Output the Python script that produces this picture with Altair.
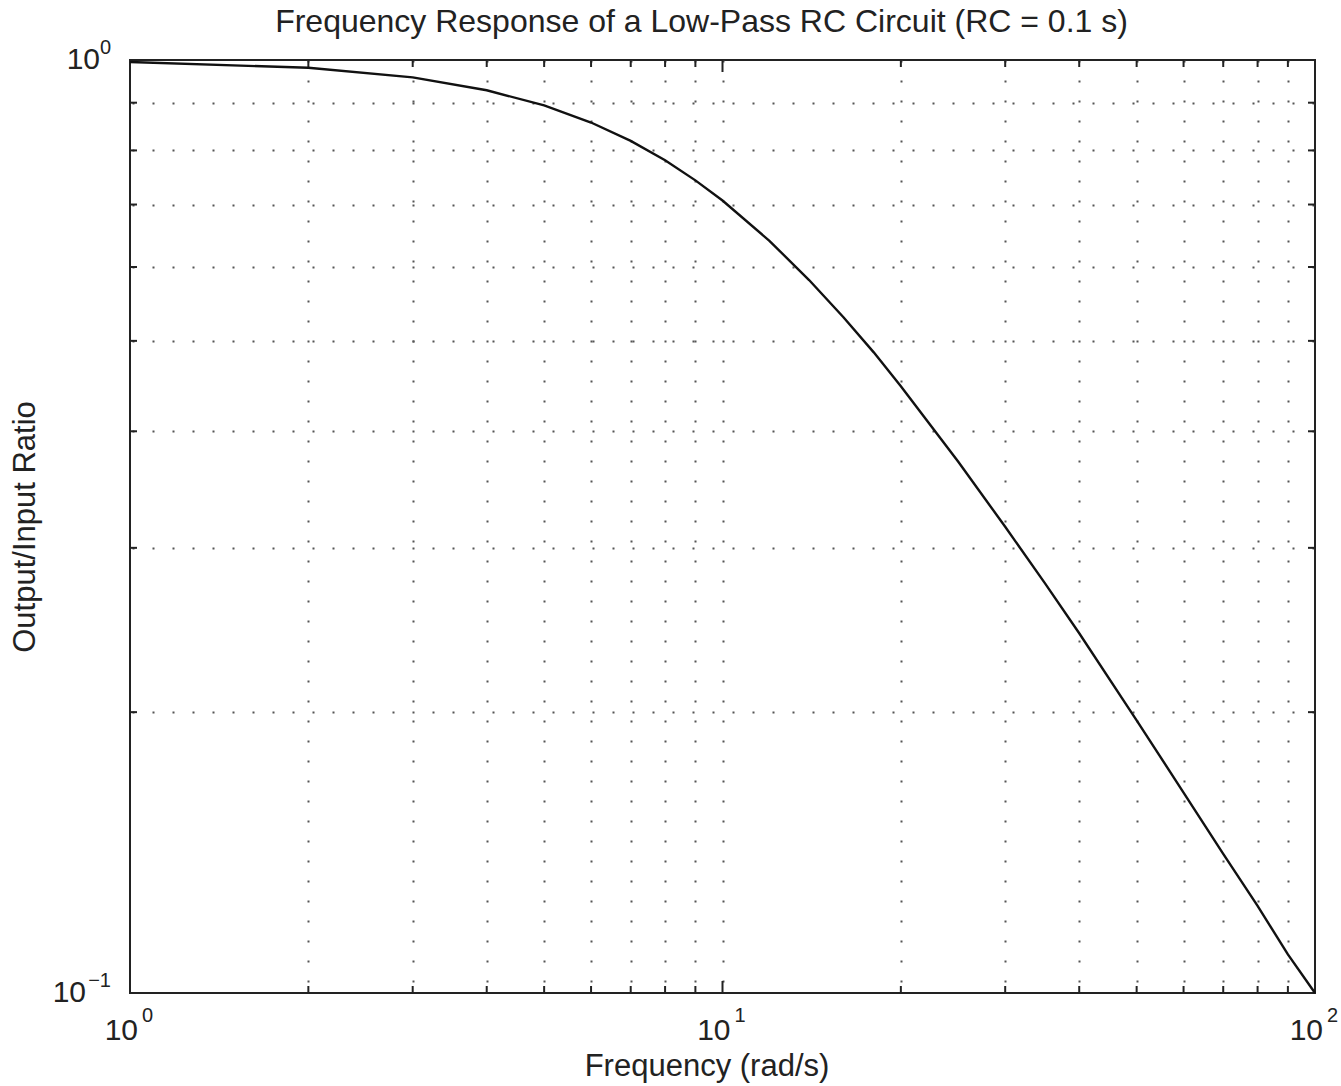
import altair as alt
import pandas as pd

# ---- data ----
freq = [1, 2, 3, 4, 5, 6, 7, 8, 9, 10, 12, 14, 16, 18, 20, 25, 30, 35, 40, 50, 60, 70, 80, 90, 100]
ratio = [0.995, 0.981, 0.958, 0.928, 0.894, 0.857, 0.819, 0.781, 0.743, 0.707, 0.640, 0.581,
         0.530, 0.486, 0.447, 0.371, 0.316, 0.275, 0.243, 0.196, 0.164, 0.141, 0.124, 0.110, 0.100]

x_major = [1, 10, 100]
x_major_exp = ["0", "1", "2"]
x_minor = [2, 3, 4, 5, 6, 7, 8, 9, 20, 30, 40, 50, 60, 70, 80, 90]
y_major = [1.0, 0.1]
y_major_exp = ["0", "\u22121"]
y_minor = [0.2, 0.3, 0.4, 0.5, 0.6, 0.7, 0.8, 0.9]

TITLE = "Frequency Response of a Low-Pass RC Circuit (RC = 0.1 s)"
XTITLE = "Frequency (rad/s)"
YTITLE = "Output/Input Ratio"

W, H = 1185, 933
FONT = "Liberation Sans"
INK = "#222222"
GRID = "#555555"

xs = alt.Scale(type="log", domain=[1, 100], nice=False)
ys = alt.Scale(type="log", domain=[0.1, 1], nice=False)

curve_df = pd.DataFrame({"f": freq, "r": ratio})
xmaj_df = pd.DataFrame({"f": x_major, "e": x_major_exp, "b": ["10"] * len(x_major)})
xmin_df = pd.DataFrame({"f": x_minor})
ymin_df = pd.DataFrame({"r": y_minor})
title_df = pd.DataFrame({"t": [TITLE]})

# grid + axis titles (no labels/ticks; those are drawn below)
grid = alt.Chart(xmin_df).mark_point(opacity=0).encode(
    x=alt.X("f:Q", scale=xs, title=XTITLE,
            axis=alt.Axis(values=x_minor + [10], grid=True, gridDash=[2, 18], gridColor=GRID,
                          gridWidth=2, gridOpacity=1, labels=False, ticks=False, domain=False,
                          titleFont=FONT, titleFontSize=31, titleFontWeight="normal",
                          titleColor=INK, titleBaseline="alphabetic", titleY=82, titleX=W / 2 - 16)),
    y=alt.Y("f:Q", scale=ys, title=YTITLE,
            axis=alt.Axis(values=y_minor, grid=True, gridDash=[2, 18], gridDashOffset=-2,
                          gridColor=GRID, gridWidth=2, gridOpacity=1,
                          labels=False, ticks=False, domain=False,
                          titleFont=FONT, titleFontSize=31, titleFontWeight="normal",
                          titleColor=INK, titleBaseline="alphabetic", titleX=-96)),
)

line = alt.Chart(curve_df).mark_line(color="#111111", strokeWidth=2.4).encode(
    x=alt.X("f:Q", scale=xs), y=alt.Y("r:Q", scale=ys)
)

def xticks(df, length):
    top = alt.Chart(df).mark_rule(color=INK, strokeWidth=2).encode(
        x=alt.X("f:Q", scale=xs), y=alt.value(0), y2=alt.value(length))
    bot = alt.Chart(df).mark_rule(color=INK, strokeWidth=2).encode(
        x=alt.X("f:Q", scale=xs), y=alt.value(H), y2=alt.value(H - length))
    return [top, bot]

def yticks(df, length):
    left = alt.Chart(df).mark_rule(color=INK, strokeWidth=2).encode(
        y=alt.Y("r:Q", scale=ys), x=alt.value(0), x2=alt.value(length))
    right = alt.Chart(df).mark_rule(color=INK, strokeWidth=2).encode(
        y=alt.Y("r:Q", scale=ys), x=alt.value(W), x2=alt.value(W - length))
    return [left, right]

ticks = xticks(xmin_df, 7) + xticks(xmaj_df, 12) + yticks(ymin_df, 7)

# x tick labels: "10" with superscript exponent
xlab_base = alt.Chart(xmaj_df).mark_text(font=FONT, fontSize=30, color=INK, align="right",
                                         baseline="alphabetic", dx=8).encode(
    x=alt.X("f:Q", scale=xs), y=alt.value(H + 47), text="b:N")
xlab_exp = alt.Chart(xmaj_df).mark_text(font=FONT, fontSize=20, color=INK, align="left",
                                        baseline="alphabetic", dx=12).encode(
    x=alt.X("f:Q", scale=xs), y=alt.value(H + 29), text="e:N")

# y tick labels
ylab_layers = []
for val, ex in zip(y_major, y_major_exp):
    sub = pd.DataFrame({"r": [val], "e": [ex], "b": ["10"]})
    exp_w = 9 if len(ex) == 1 else 23
    ylab_layers.append(alt.Chart(sub).mark_text(font=FONT, fontSize=30, color=INK, align="right",
                                                baseline="middle", dx=-(19 + exp_w + 2)).encode(
        y=alt.Y("r:Q", scale=ys), x=alt.value(0), text="b:N"))
    ylab_layers.append(alt.Chart(sub).mark_text(font=FONT, fontSize=20, color=INK, align="right",
                                                baseline="middle", dx=-19, dy=-12).encode(
        y=alt.Y("r:Q", scale=ys), x=alt.value(0), text="e:N"))

title = alt.Chart(title_df).mark_text(font=FONT, fontSize=32, color=INK, align="center",
                                      baseline="alphabetic").encode(
    x=alt.value(W / 2 - 21), y=alt.value(-28), text="t:N")

chart = alt.layer(grid, *ticks, line, xlab_base, xlab_exp, *ylab_layers, title).properties(
    width=W, height=H,
    autosize=alt.AutoSizeParams(type="none"),
    padding={"left": 130, "top": 60, "right": 26, "bottom": 93},
    background="white",
).configure_view(stroke=INK, strokeWidth=2)

chart.save("out.html", embed_options={"renderer": "svg", "actions": False})
